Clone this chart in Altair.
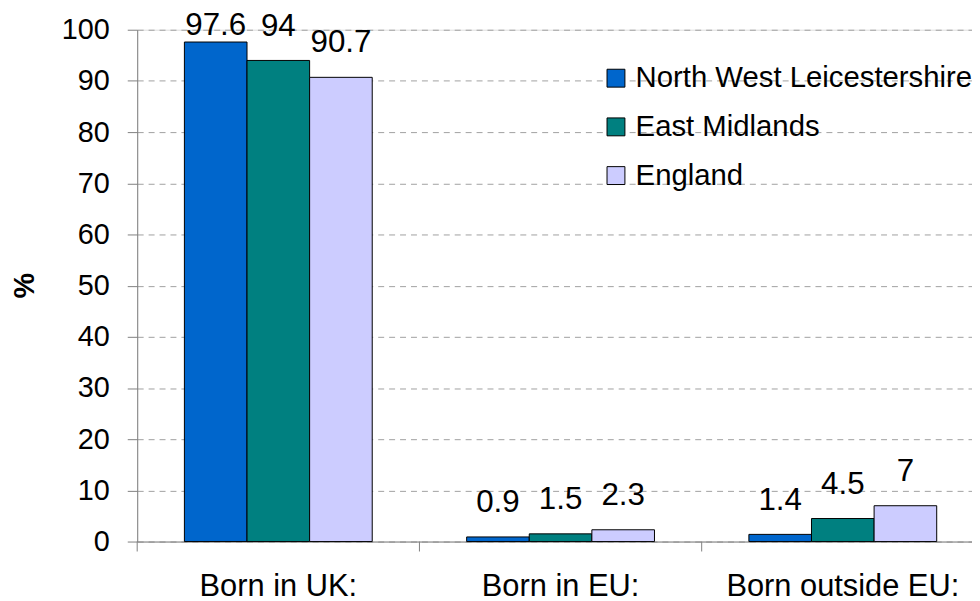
import altair as alt
import pandas as pd

categories = ["Born in UK:", "Born in EU:", "Born outside EU:"]
series = ["North West Leicestershire", "East Midlands", "England"]
colors = ["#0066CC", "#008080", "#CCCCFF"]
values = {
    "North West Leicestershire": [97.6, 0.9, 1.4],
    "East Midlands": [94, 1.5, 4.5],
    "England": [90.7, 2.3, 7],
}
y_ticks = list(range(0, 101, 10))

rows = []
for s in series:
    for c, v in zip(categories, values[s]):
        rows.append({"category": c, "series": s, "value": v, "label": f"{v:g}"})
df = pd.DataFrame(rows)
cat_df = pd.DataFrame({"category": categories})

FONT = "Liberation Sans"

x_scale = alt.Scale(domain=categories, paddingInner=0, paddingOuter=0)
xoff_scale = alt.Scale(domain=series, paddingInner=0, paddingOuter=0.754)
color_scale = alt.Scale(domain=series, range=colors)

base = alt.Chart(df)

bars = base.mark_bar(stroke="black", strokeWidth=1).encode(
    x=alt.X("category:N", scale=x_scale, sort=categories,
            axis=alt.Axis(title=None, ticks=False, labelPadding=30, labelFontSize=31,
                          labelColor="black", domainColor="#808080", labelAngle=0,
                          labelFont=FONT, labelLimit=1000)),
    xOffset=alt.XOffset("series:N", scale=xoff_scale, sort=series),
    y=alt.Y("value:Q", scale=alt.Scale(domain=[0, 100], nice=False),
            axis=alt.Axis(title="%", values=y_ticks, labelFontSize=29, labelFont=FONT,
                          labelColor="black", tickSize=10, tickColor="#808080",
                          domainColor="#808080", labelPadding=18,
                          grid=True, gridColor="#A0A0A0", gridDash=[6, 5], gridWidth=1,
                          titleFontSize=29, titleFont=FONT, titleFontWeight="bold",
                          titleColor="black", titleAngle=-90, titleBaseline="middle",
                          titleAlign="center", titleX=-113, titleY=257)),
    color=alt.Color("series:N", scale=color_scale, sort=series,
                    legend=alt.Legend(title=None, orient="none", legendX=467, legendY=34,
                                      labelFontSize=29.5, labelFont=FONT, labelColor="black",
                                      labelLimit=1000,
                                      symbolType="square", symbolSize=324,
                                      symbolStrokeColor="black", symbolStrokeWidth=1,
                                      symbolOpacity=1, labelOffset=5, rowPadding=18,
                                      padding=0)),
)

labels = base.transform_calculate(
    label_y="min(datum.value + 3.5, 97.7)"
).mark_text(fontSize=31.5, font=FONT, color="black", baseline="bottom", align="center").encode(
    x=alt.X("category:N", scale=x_scale, sort=categories),
    xOffset=alt.XOffset("series:N", scale=xoff_scale, sort=series),
    y=alt.Y("label_y:Q"),
    text="label:N",
)

ticks = alt.Chart(cat_df).mark_rule(color="#808080", strokeWidth=1).encode(
    x=alt.X("category:N", scale=x_scale, sort=categories, bandPosition=0),
    y=alt.value(515),
    y2=alt.value(525),
)

chart = alt.layer(bars, labels, ticks).properties(
    width=852, height=515,
    autosize=alt.AutoSizeParams(type="none"),
    padding={"left": 130, "top": 20, "right": -12, "bottom": 66},
).configure_view(stroke=None).configure(font=FONT)

chart.save("out.html", embed_options={"renderer": "svg", "actions": False})
